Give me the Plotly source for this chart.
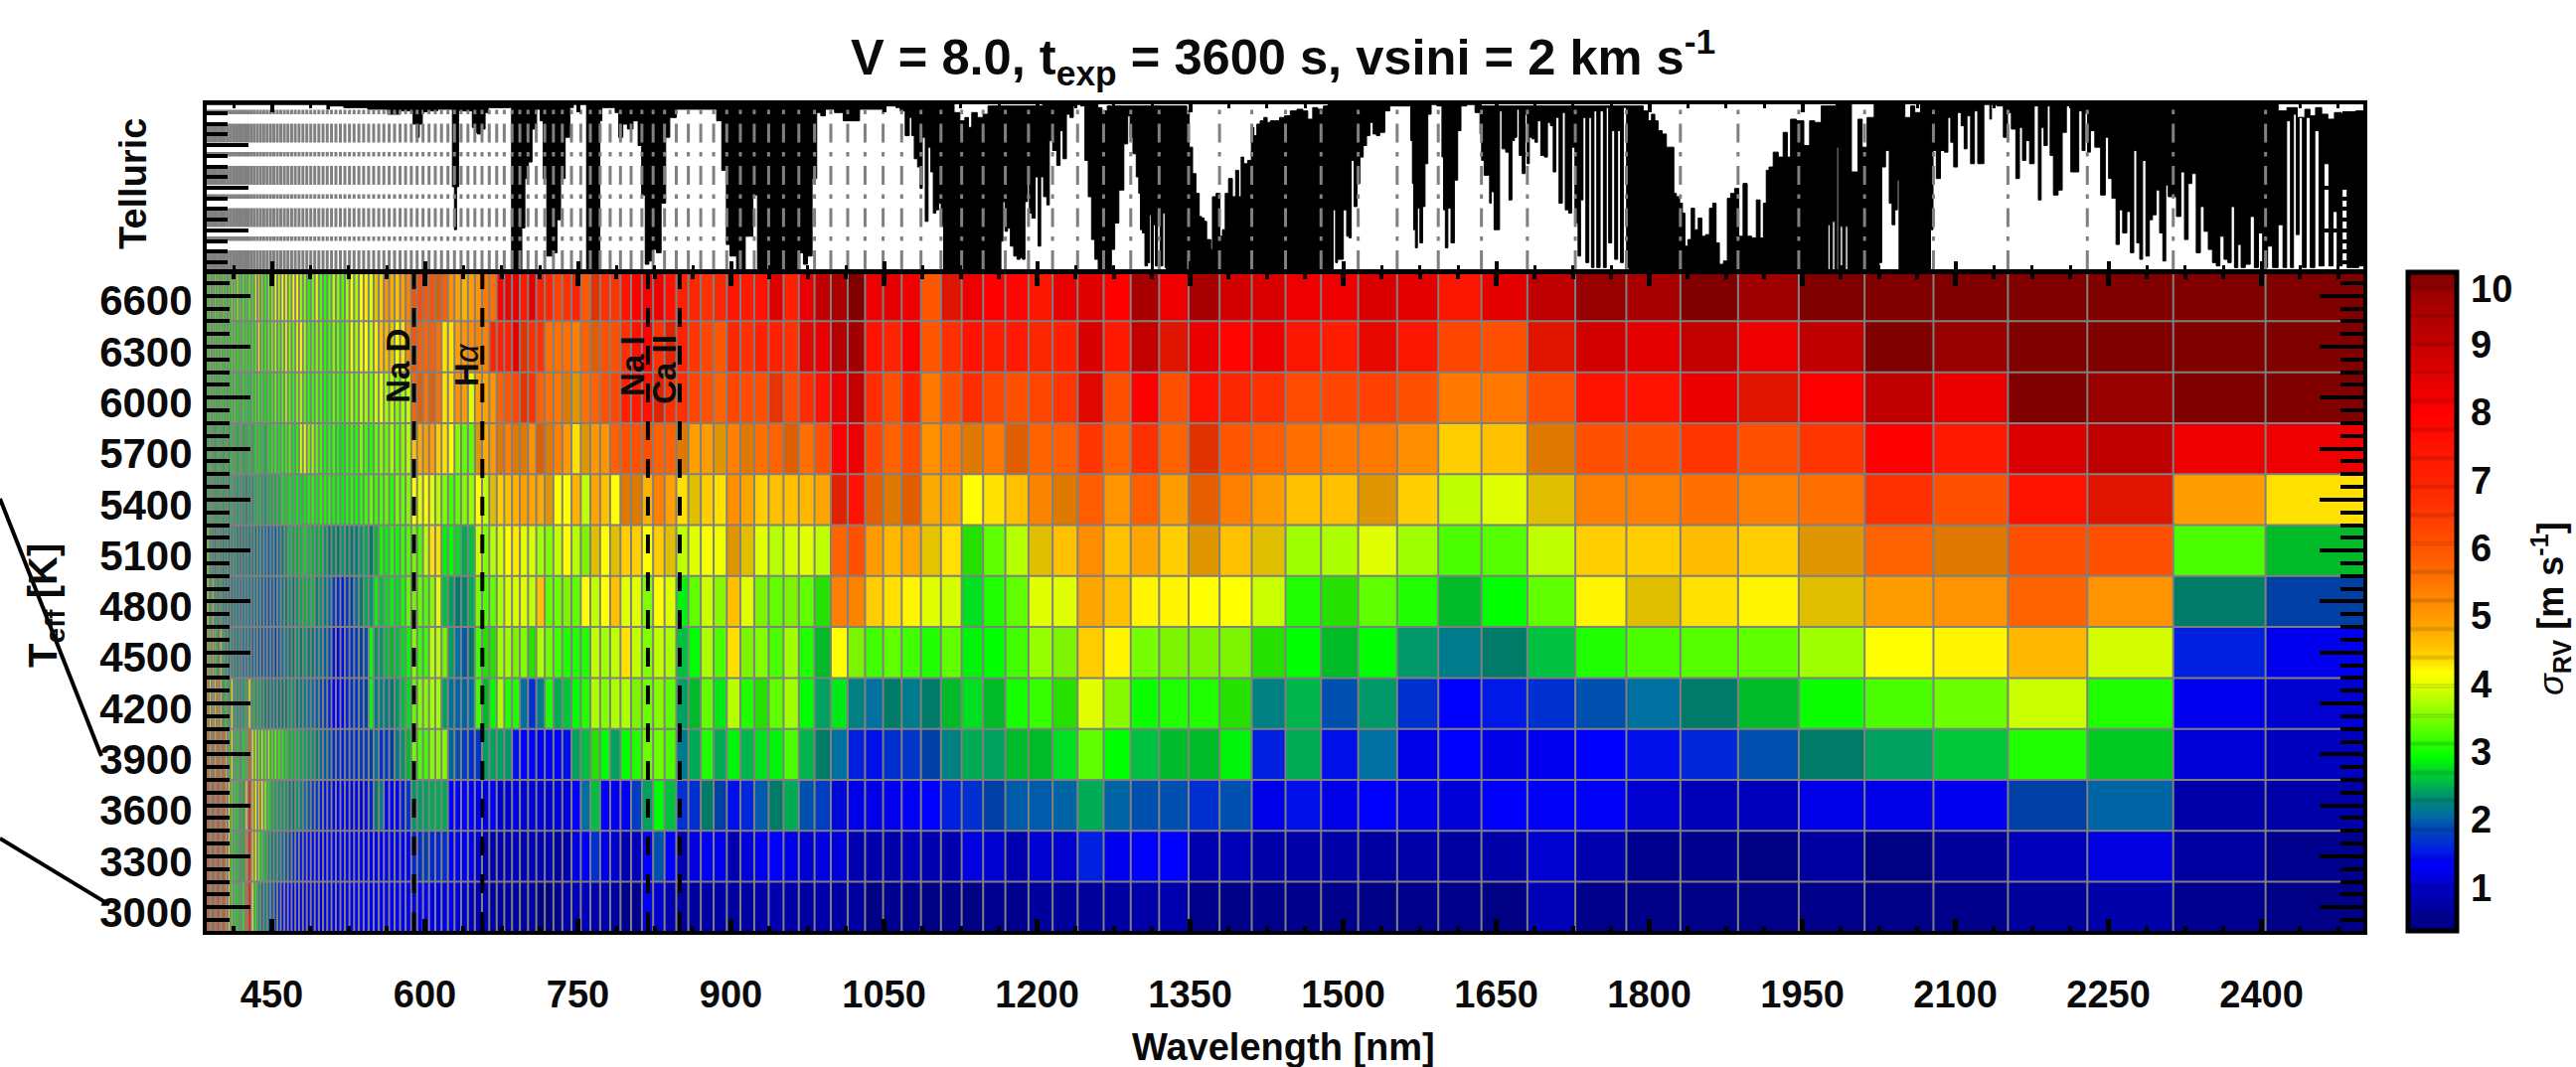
import plotly.graph_objects as go

W, H = 2592, 1074

title_text = "<b>V = 8.0, t<sub>exp</sub> = 3600 s, vsini = 2 km s<sup>-1</sup></b>"

wave_edges = [381.2,383.6,386.0,388.5,391.0,393.5,396.1,398.7,401.3,404.0,406.7,409.4,412.2,415.0,417.9,420.7,423.7,426.6,429.7,432.7,
435.8,438.9,442.1,445.4,448.7,452.0,455.4,458.8,462.3,465.8,469.4,473.0,476.7,480.5,484.3,488.2,492.1,496.1,500.2,504.3,
508.5,512.8,517.2,521.6,526.1,530.6,535.3,540.0,544.9,549.8,554.8,559.8,565.0,570.3,575.7,581.1,586.7,592.4,598.2,604.1,
610.2,616.3,622.6,629.0,635.5,642.2,649.0,656.0,663.1,670.4,677.8,685.4,693.1,701.1,709.2,717.5,726.0,734.7,743.7,752.8,
762.2,771.8,781.6,791.7,802.1,812.7,823.7,834.9,846.4,858.2,870.4,883.0,895.9,909.2,922.8,936.9,951.5,966.5,981.9,997.9,
1014.4,1031.4,1049.1,1067.3,1086.2,1105.8,1126.1,1147.1,1168.9,1191.6,1215.2,1239.7,1265.2,1291.8,1319.6,1348.5,1378.8,1410.4,1443.5,1478.3,
1514.7,1552.9,1593.2,1635.5,1680.5,1727.5,1777.5,1830.5,1887.0,1946.5,2011.0,2078.5,2151.5,2229.3,2313.5,2404.0,2502.6]

teff_edges = [2850,3150,3450,3750,4050,4350,4650,4950,5250,5550,5850,6150,6450,6750]

dense_3000 = [6.8,5.6,7.2,5.4,6.8,5.5,6.9,5.3,6.5,5.2, 4.2,3.2,2.9,2.8,2.7,3.0,6.0,7.9,4.0,2.8, 2.3,2.2,2.1,2.0,1.85,1.7,1.5,1.4,1.3,1.25,
 1.2,1.25,1.2,1.15,1.2,1.15,1.2,1.2,1.15,1.2, 1.25,1.2,1.25,1.3,1.25,1.3,1.3,1.25,1.3,1.3, 1.3,1.25,1.3,1.3,1.25,1.3,
 1.15,1.3,1.28,1.25,1.2,1.15,1.2,1.1,1.0,.85,.8,.8,.65,.65,.65,.6,.6,.65,.5,.5,.55,.75,.8,.9,.75,.75,.65,.45,.45,1.25,1.0,.75]
wide_3000 = [.65,.65,.7,.7,.65,.65,.7,.75,.7,.65,.7,.65,.65,.5,.55,.55,.5,.4,.5,.55,.55,.6,.6,.6,.65,.7,.75,.4,.35,.4,.4,.4,.35,.4,.4,.5,.8,.4,.35,.35,.35,.4,.35,.4,.6,.7,.45,.35]

dense_3300 = [6.6,5.6,7.0,5.3,6.5,5.4,6.7,5.2,6.4,5.0, 4.1,3.0,2.8,2.7,2.6,2.6,5.3,7.5,4.4,3.9, 3.3,2.8,2.5,2.3,2.2,2.15,2.1,2.0,1.85,1.8,
 1.6,1.5,1.4,1.4,1.3,1.3,1.3,1.3,1.25,1.3, 1.3,1.25,1.3,1.3,1.25,1.3,1.25,1.3,1.3,1.25, 1.3,1.25,1.3,1.25,1.3,1.3,
 1.55,1.6,1.75,1.55,1.55,1.6,1.3,1.3,1.25,1.2,1.0,.94,.94,.75,.8,.9,.75,.85,.8,.8,.6,.75,1.15,1.3,1.6,1.15,1.0,.94,.9,1.3,1.85,1.3]
wide_3300 = [.95,1.1,1.25,1.2,.94,1.05,1.2,1.3,1.15,1.0,1.1,1.05,.94,.75,.7,.85,.75,.94,1.1,1.0,.94,1.0,1.0,1.5,1.2,1.3,1.3,.75,.8,.7,.7,.7,.65,.7,.65,.7,1.0,.75,.55,.55,.5,.65,.5,.6,.85,1.1,.65,.55]

dense_3600 = [6.5,5.5,6.8,5.2,6.4,5.4,6.6,5.2,6.3,5.0, 4.1,3.2,2.9,2.8,2.6,2.6,4.2,7.6,4.5,4.0, 4.3,3.9,3.4,2.8,2.6,2.4,2.35,2.35,2.3,2.2,
 2.2,2.3,2.15,2.0,1.85,1.7,1.6,1.5,1.4,1.4, 1.35,1.3,1.3,1.3,1.35,1.3,1.35,1.4,1.5,2.2, 2.15,1.3,1.3,1.25,1.5,1.6,
 2.3,2.35,2.35,2.4,2.4,2.4,1.3,1.3,1.3,1.3,1.25,1.15,1.3,1.0,1.0,1.15,1.0,1.05,1.05,1.0,1.05,1.05,1.3,2.0,2.5,1.3,1.25,1.25,1.7,2.35,2.85,2.5]
wide_3600 = [1.6,1.6,2.22,1.78,1.4,1.55,1.9,2.22,2.4,1.85,1.7,1.35,1.15,1.15,1.2,1.25,1.3,1.5,1.6,1.78,1.9,1.9,1.95,2.4,1.95,1.85,1.85,1.6,1.85,1.15,1.4,1.15,1.3,1.15,1.05,1.28,1.25,1.25,1.0,.8,.85,1.15,1.15,1.2,1.78,1.95,.7,.7]

dense_3900 = [6.0,5.0,6.2,4.6,5.6,4.5,5.8,5.0,6.0,4.6, 2.8,4.1,2.7,2.7,2.6,2.8,2.7,6.0,4.0,3.6, 3.2,3.6,3.1,3.5,3.0,3.2,3.0,2.9,2.7,2.6,
 2.5,2.5,2.4,2.4,2.3,2.3,2.2,2.0,1.9,1.85, 1.6,1.6,1.5,1.6,1.6,1.6,1.7,1.7,1.8,2.0, 1.6,1.7,1.8,2.1,2.3,2.6,
 3.35,3.2,3.15,3.5,3.5,3.5,1.95,1.85,1.7,1.6,1.65,2.35,2.35,2.35,2.3,1.4,1.3,1.3,1.25,1.3,1.3,1.4,2.35,2.5,3.05,2.85,2.35,2.85,3.0,3.35,3.35,3.2]
wide_3900 = [2.1,2.4,3.0,2.4,2.8,2.45,2.7,2.8,3.2,2.45,2.22,2.0,1.5,1.4,1.6,1.65,1.78,2.15,2.4,2.35,2.6,2.62,2.7,3.3,2.85,2.5,2.6,2.62,2.8,1.5,2.4,1.4,2.0,1.15,1.3,1.15,1.2,1.3,1.4,1.55,1.85,2.22,2.35,2.55,3.0,2.65,1.05,.9]

dense_4200 = [5.5,4.2,5.5,4.0,5.0,3.9,5.3,4.2,2.6,2.8, 2.5,4.1,2.4,2.3,2.3,2.3,2.5,4.2,2.6,2.4, 2.4,2.3,2.2,2.2,2.1,2.1,2.2,2.2,2.2,2.3,
 2.3,2.2,2.1,2.1,2.0,2.0,1.9,1.85,1.7,1.5, 1.3,1.3,1.3,1.5,1.6,1.65,1.7,1.8,2.85,2.1, 2.15,2.1,2.2,2.3,2.5,2.7,
 3.3,3.45,3.5,3.6,3.6,2.35,2.0,1.95,1.95,2.0,3.15,2.62,2.85,3.65,3.0,3.0,2.0,1.6,2.1,3.0,2.4,2.55,2.85,3.0,3.65,3.45,3.65,3.65,3.46,3.35,3.5,3.3]
wide_4200 = [2.35,2.62,3.3,2.75,3.7,3.0,3.05,3.3,3.6,2.85,2.35,2.75,2.15,2.0,2.22,2.1,2.22,2.62,2.7,2.62,2.95,3.1,3.05,3.9,3.5,2.9,3.0,3.0,3.05,2.15,2.45,1.85,2.3,1.6,1.3,1.45,1.6,1.85,2.0,2.22,2.62,2.9,3.2,3.35,3.8,3.0,1.2,1.0]

dense_4500 = [4.5,3.5,5.0,3.0,4.6,3.0,2.4,3.8,2.5,2.3, 2.2,2.3,2.1,2.2,2.1,2.0,2.0,2.1,1.9,2.0, 1.9,1.85,1.9,1.85,1.9,1.8,1.9,2.0,2.1,2.2,
 2.2,2.3,2.2,2.3,2.2,2.2,2.0,2.1,1.9,1.85, 1.4,1.35,1.4,1.6,1.6,1.7,1.8,1.85,2.85,2.3, 2.3,2.5,2.6,2.5,2.7,2.85,
 3.45,3.1,3.1,3.7,3.7,3.46,2.35,2.0,1.9,2.2,3.15,3.05,3.05,3.6,3.6,3.46,3.45,3.05,3.65,3.35,3.15,3.0,3.0,3.0,3.75,3.6,3.75,4.25,3.75,3.45,3.75,3.65]
wide_4500 = [2.5,2.85,3.65,3.2,4.25,3.46,3.45,3.2,3.6,3.0,2.62,4.1,3.46,3.15,3.3,3.15,3.0,3.3,2.8,2.85,3.15,3.55,3.46,4.4,4.15,3.4,3.46,3.46,3.46,3.05,2.85,2.62,2.85,2.3,2.1,2.22,2.5,3.0,3.2,3.25,3.3,3.6,4.1,4.15,4.6,3.85,1.5,1.2]

dense_4800 = [3.8,2.6,4.0,2.6,3.6,2.4,2.3,2.5,2.1,2.2, 2.1,2.2,2.1,2.1,2.0,2.0,2.0,2.1,2.0,2.1, 2.0,1.9,1.9,1.85,1.9,1.85,2.0,2.1,2.2,2.3,
 2.2,2.3,2.4,2.6,2.4,2.5,2.2,2.3,2.1,2.0, 1.7,1.6,1.5,1.7,1.8,2.0,2.2,2.4,2.3,2.8, 2.5,2.7,2.8,2.7,2.9,3.3,
 3.46,3.3,3.2,3.5,3.9,2.5,2.35,2.2,2.25,2.4,3.4,3.2,3.3,3.65,3.85,3.85,3.9,3.75,4.5,3.3,3.35,3.46,3.3,4.1,3.75,4.1,4.5,3.9,3.9,3.45,4.1,3.9]
wide_4800 = [2.8,3.3,3.8,3.5,4.5,3.9,3.46,3.3,3.46,3.3,3.05,5.3,5.2,4.4,4.25,4.15,3.9,3.85,2.7,3.0,3.3,3.9,3.9,4.8,4.5,4.15,4.15,4.1,4.1,3.8,3.0,3.05,3.3,3.0,2.62,2.85,3.3,4.15,4.32,4.25,4.15,4.32,4.9,5.0,5.7,5.0,2.22,1.78]

dense_5100 = [3.2,2.6,3.6,2.5,2.3,2.2,2.4,2.3,2.2,2.3, 2.2,2.3,2.3,2.2,2.2,2.1,2.1,2.2,2.1,2.2, 2.1,2.0,2.0,1.9,2.0,1.9,2.0,2.2,2.3,2.5,
 2.4,2.6,2.5,2.7,2.5,2.6,2.4,2.6,2.3,2.2, 2.25,2.2,2.3,2.25,2.2,2.15,2.3,2.4,2.2,2.6, 2.9,2.8,3.0,2.9,3.1,3.2,
 3.46,3.2,3.75,4.25,4.25,2.8,2.85,2.7,2.4,2.5,3.8,3.45,3.7,3.85,4.1,4.2,3.9,3.85,3.6,3.45,3.75,4.1,3.7,3.46,4.32,4.1,4.32,4.4,4.4,4.1,4.4,4.32]
wide_5100 = [3.75,3.9,4.05,4.0,4.74,4.32,3.9,3.7,3.85,3.9,3.75,5.7,6.0,4.9,4.6,4.8,4.3,4.25,3.05,3.3,3.7,4.32,4.5,5.1,4.5,4.8,4.4,4.74,4.5,4.32,3.6,3.65,3.9,3.6,3.2,3.25,3.75,4.4,4.4,4.55,4.4,4.74,5.7,5.16,6.0,6.0,3.2,2.62]

dense_5400 = [2.6,2.5,2.4,2.7,2.5,2.4,2.6,2.5,2.4,2.5, 2.3,2.5,2.4,2.3,2.4,2.3,2.2,2.4,2.3,2.5, 2.5,2.4,2.3,2.5,2.6,2.6,2.5,2.8,2.7,2.8,
 2.7,2.8,2.7,2.8,2.9,3.0,2.8,3.0,2.9,3.0, 2.9,2.9,2.8,2.9,3.0,2.9,3.0,3.1,3.3,3.1, 3.2,3.3,3.0,3.4,3.3,3.5,
 4.1,3.9,4.1,3.9,3.7,3.45,3.15,3.3,3.5,3.55,4.1,3.75,4.32,4.4,4.5,4.65,4.85,4.8,4.7,4.75,4.1,4.1,4.65,3.75,4.8,4.5,4.1,5.16,5.16,4.65,5.3,4.85]
wide_5400 = [4.25,4.32,4.4,4.25,5.05,4.8,4.4,4.5,4.5,4.6,4.8,6.84,7.4,5.6,5.16,5.58,4.7,4.8,4.1,4.25,4.5,5.2,5.16,5.8,5.0,5.8,4.9,5.6,5.3,4.9,4.5,4.5,4.74,4.4,3.75,3.9,4.32,5.3,5.3,5.5,5.3,5.5,6.6,6.0,7.4,7.26,4.9,4.25]

dense_5700 = [2.8,2.7,2.6,2.9,2.7,2.6,2.8,2.7,2.6,2.7, 2.6,2.8,2.7,2.6,2.7,2.6,2.5,2.7,2.6,2.8, 2.8,2.7,2.6,2.8,2.9,3.0,2.8,3.0,3.0,3.2,
 2.8,3.0,3.8,4.0,3.4,3.6,3.3,3.1,2.9,3.0, 3.1,2.9,2.8,3.0,3.1,3.0,3.4,3.1,3.0,3.3, 3.5,3.3,3.6,3.3,3.5,3.7,
 4.5,4.7,4.85,4.9,4.4,4.25,4.1,3.5,3.3,3.3,4.74,4.7,4.95,5.16,5.3,5.16,5.16,5.05,5.58,5.16,5.3,4.95,4.25,4.74,4.95,5.0,5.75,6.0,6.0,6.0,5.75,5.7]
wide_5700 = [5.16,4.85,4.9,4.74,5.3,5.16,5.5,5.7,5.58,5.5,6.0,7.9,8.2,6.2,5.7,6.1,5.05,5.4,5.16,5.4,5.58,5.7,5.8,6.5,5.7,6.6,5.7,6.42,5.9,5.8,5.5,5.4,5.4,5.1,4.4,4.5,5.16,6.0,6.0,6.5,6.0,6.5,7.9,7.2,8.6,9.0,8.2,8.2]

dense_6000 = [2.9,3.0,2.8,3.1,2.9,2.9,2.8,3.0,2.9,2.8, 2.8,2.9,3.0,2.8,2.7,2.9,2.8,2.7,2.9,3.0, 3.1,2.9,2.8,2.9,3.0,3.3,3.0,3.2,3.6,3.2,
 3.0,3.4,3.7,3.2,3.0,3.1,3.3,3.1,2.9,3.0, 3.3,3.1,3.0,3.3,3.6,3.3,3.7,3.6,3.4,3.75, 3.9,3.6,3.7,3.5,3.6,3.75,
 5.75,5.6,5.5,5.6,5.5,4.25,4.25,5.05,4.9,3.9,4.85,4.85,5.0,5.75,5.9,6.2,6.4,6.6,5.75,5.5,5.4,5.16,4.74,5.5,5.75,6.0,6.2,7.0,7.2,7.5,6.84,6.6]
wide_6000 = [6.6,6.2,6.0,5.7,6.2,6.1,6.0,6.4,6.1,6.7,7.4,8.3,8.9,6.7,6.0,7.0,5.4,6.0,6.7,6.2,6.0,6.2,6.5,7.68,6.0,7.9,6.0,7.4,6.8,6.6,6.1,6.2,6.3,6.0,5.4,5.4,6.0,7.4,7.4,8.3,7.26,7.9,9.0,8.3,10.2,9.7,10.2,10.2]

dense_6300 = [3.0,3.3,2.9,3.2,3.0,3.1,3.0,3.2,2.9,3.0, 2.9,3.1,3.0,3.0,2.9,3.1,3.0,2.9,3.0,3.2, 4.2,3.1,3.0,3.2,3.4,3.6,3.2,3.5,3.9,3.5,
 3.3,3.8,4.1,3.6,3.1,3.2,3.5,3.3,3.0,3.1, 3.5,3.3,3.1,3.5,3.9,3.6,4.0,4.1,3.7,4.2, 4.5,4.6,4.3,4.0,4.25,5.2,
 6.0,5.8,5.7,5.8,5.5,4.25,4.25,4.85,5.0,5.1,5.2,5.2,6.9,7.0,7.0,8.3,6.42,6.6,6.6,5.5,5.5,5.5,5.3,5.75,5.58,6.0,6.0,6.6,7.5,7.9,6.6,6.84]
wide_6300 = [7.0,6.5,6.2,5.9,6.8,6.6,7.0,7.0,6.6,7.68,8.3,9.2,9.6,7.4,6.9,7.9,5.9,6.6,7.4,7.1,7.2,6.8,7.0,8.1,7.2,8.9,7.26,8.3,7.8,8.2,7.3,7.1,7.7,7.3,6.2,6.0,7.26,8.7,8.4,8.9,8.2,9.0,10.2,9.7,10.2,10.2,10.2,10.2]

dense_6600 = [3.0,3.2,3.0,3.3,3.0,3.4,3.1,3.0,3.2,3.0, 3.0,3.3,3.1,3.6,3.0,3.2,2.9,3.3,3.0,3.8, 4.3,3.2,3.0,3.3,3.5,4.0,3.6,4.1,4.0,3.5,
 4.0,4.1,3.6,3.5,3.0,3.4,3.9,3.2,3.0,3.2, 3.7,3.5,3.2,3.6,4.0,3.6,4.1,4.2,3.9,4.3, 4.4,5.0,4.7,4.5,4.9,5.2,
 6.0,6.1,5.9,6.0,5.58,5.8,5.05,4.85,4.65,4.9,5.0,5.4,5.5,7.9,7.7,8.4,7.2,8.4,7.0,6.9,6.3,6.6,7.0,5.9,6.42,6.6,6.5,7.4,7.9,8.0,8.2,7.5]
wide_6600 = [7.0,6.8,6.6,6.8,7.3,7.2,7.4,8.5,7.0,8.3,9.0,9.4,10.0,8.2,8.4,8.2,5.9,7.26,8.2,7.9,7.8,7.3,8.3,8.5,7.9,9.5,8.2,9.5,8.7,8.6,8.2,8.2,8.6,8.4,7.3,8.4,9.0,9.7,9.5,10.2,9.6,10.2,10.2,10.2,10.2,10.2,10.2,10.2]

sigma_rows = [dense_3000+wide_3000, dense_3300+wide_3300, dense_3600+wide_3600, dense_3900+wide_3900, dense_4200+wide_4200,
              dense_4500+wide_4500, dense_4800+wide_4800, dense_5100+wide_5100, dense_5400+wide_5400, dense_5700+wide_5700,
              dense_6000+wide_6000, dense_6300+wide_6300, dense_6600+wide_6600]

# telluric transmission: lower and upper envelope of the densely oscillating curve
tell_low = [(384,1.0),(503,1.0),(505,.97),(508,.99),(533,.98),(555,.97),(572,.94),(580,.96),(587,.96),(590,.88),(593,.80),(596,.88),(599,.96),
(626,.97),(628,.5),(630,.24),(632,.5),(634,.96),(645,.96),(648,.86),(650,.83),(653,.82),(656,.86),(658,.85),(660,.95),(664,.98),(684,.98),(686,0),(694,0),
(696,.25),(700,.55),(703,.65),(707,.85),(712,.97),(714,.9),(718,.55),(721,.08),(724,.08),(728,.1),(731,.3),(735,.55),(740,.8),(744,.98),(747,1.0),(758,1.0),
(759,0),(771,0),(772,.9),(775,.98),(785,.98),(788,.95),(792,.8),(796,.88),(801,.85),(807,.9),(811,.75),(814,.45),(818,.03),(821,.05),(825,.12),(829,.1),
(834,.4),(838,.8),(842,.92),(851,.97),(884,.97),(888,.9),(894,.6),(897,.15),(901,.08),(910,0),(918,.2),(925,.45),(927,0),(966,0),(969,.1),(973,.03),(977,.08),
(982,.55),(986,.95),(990,.93),(995,.97),(1008,.95),(1012,.9),(1040,.97),(1060,.99),(1063.4,.98),(1068.3,.96),(1073.2,.81),(1076.4,.92),(1078,.81),(1081.3,.67),
(1084.5,.62),(1086.2,.49),(1088.8,.80),(1092,.29),(1094.3,.74),(1097.5,.59),(1099.1,.34),(1102.4,.36),(1104.7,.40),(1107.3,.26),(1109.5,0),(1163.4,0),(1165.7,.17),
(1167.3,.41),(1169.9,.23),(1172.2,.25),(1175.5,.14),(1178.7,.08),(1182,.06),(1184.5,.07),(1186.8,.06),(1189.4,.41),(1191.7,.60),(1193.3,.34),(1196.6,.31),
(1199.8,.56),(1202.4,.14),(1204.7,.56),(1208,.44),(1211.2,.39),(1212.8,.78),(1217.7,.72),(1220.9,.63),(1224.2,.84),(1226.8,.67),(1230.7,.94),(1233.9,.92),
(1237.1,.99),(1240.4,1.0),(1245.3,.99),(1248.5,.66),(1251.8,.44),(1255,.18),(1258.3,.06),(1261.5,0),(1271.2,0),(1274.5,.12),(1277.7,.28),(1282.6,.48),
(1287.5,.76),(1290.1,.93),(1292.3,.80),(1295.6,.70),(1298.8,.56),(1300.5,.46),(1302.1,.24),(1304.4,.22),(1307,.02),(1309.5,.04),(1311.2,.33),(1312.8,.02),
(1315.1,.27),(1316.7,.02),(1319.3,.34),(1321.9,.02),(1324.5,.34),(1326.4,.01),(1327,0),(1488.8,0),(1491.4,.36),(1493.7,.04),(1495.3,.06),(1498.5,.06),
(1501.8,.36),(1505,.2),(1506.6,.19),(1509.2,.66),(1512.2,.38),(1514.8,.52),(1518,.68),(1521.3,.75),(1524.5,.81),(1527.8,.89),(1531,.82),(1534.2,.81),
(1537.5,.83),(1544,.96),(1547.2,.99),(1565.1,.99),(1567.4,.78),(1568.3,.52),(1570,.24),(1571.6,.13),(1573.9,.37),(1576.5,.16),(1579.1,.38),(1581.3,.64),
(1584.6,.94),(1587.8,1.0),(1596,.99),(1597.6,.68),(1599.2,.36),(1601.1,.13),(1604.1,.37),(1607.3,.16),(1610.6,.54),(1613.8,.84),(1617,.99),(1625.2,1.0),
(1633.3,.95),(1634.9,.82),(1636.5,.66),(1639.8,.57),(1643,.57),(1644,.40),(1646.3,.47),(1649.5,.24),(1652.8,.24),(1653.7,.96),(1657.6,.73),(1660.9,.71),
(1664.1,.42),(1666.7,.78),(1669,.80),(1671.3,.97),(1673.9,.69),(1677.1,.58),(1679.4,.94),(1681.3,.64),(1683.6,.80),(1686.9,.79),(1689.1,.77),(1691.7,.90),
(1695.6,.69),(1698.9,.68),(1701.5,.89),(1704.7,.87),(1707,.59),(1709.6,.92),(1713.5,.40),(1716.1,.95),(1719.3,.36),(1722.6,.34),(1725.2,.74),(1729.1,.28),
(1731.3,.08),(1733.9,.42),(1736.2,.92),(1739.5,.04),(1742,.92),(1744.7,.01),(1746.9,.96),(1750.2,.01),(1753.4,.96),(1756.7,.01),(1758.9,.98),(1761.5,.16),
(1764.8,.84),(1767.4,.06),(1770.6,.84),(1772.9,.04),(1776.2,.98),(1779.4,.01),(1781,0),(1974.2,0),(1975.9,.27),(1978.4,0),(1980.7,.29),(1983,0),(1984.6,.74),
(1986.2,0),(1988.2,.26),(1990.8,0),(1993.7,.26),(1995.3,0),(2024.5,0),(2026.1,.04),(2029.4,.62),(2033.6,.72),(2036.8,.40),(2039.1,.27),(2042.3,.36),(2044,.54),
(2045.6,0),(2074.8,0),(2076.4,.24),(2079.7,.72),(2082.9,.55),(2087.8,.72),(2091,.71),(2094.3,.92),(2096.6,.77),(2100.1,.62),(2104,.95),(2107.3,.87),(2109.9,.73),
(2112.8,.93),(2117,.64),(2120.3,.96),(2123.5,.64),(2126.8,.64),(2129,1.0),(2133.3,1.0),(2134.2,.91),(2136.5,1.0),(2144.6,.99),(2149.5,.80),(2152.7,.95),(2157,.85),
(2161.5,.55),(2164.1,.86),(2167.4,.66),(2170.6,.78),(2174.8,.64),(2179.7,.99),(2182.9,.42),(2185.2,.86),(2188.5,.75),(2191.7,.99),(2194,.69),(2198.2,.45),
(2203.1,.48),(2206.3,.83),(2211.2,.99),(2215.1,.59),(2219.3,.59),(2222.5,.96),(2225.8,.72),(2228.4,.95),(2230.7,.71),(2233.9,.84),(2239.4,.74),(2245.3,.45),
(2248.5,.80),(2251.8,.55),(2255,.43),(2259.9,.15),(2261.5,.36),(2266.4,.22),(2269.6,.35),(2273.5,.10),(2276.1,.72),(2279.4,.16),(2282,.06),(2284.9,.66),
(2288.5,.08),(2291.7,.30),(2294.6,.33),(2298.9,.48),(2301.4,.22),(2305.3,.05),(2307,.51),(2310.2,.44),(2314.1,.44),(2319.3,.32),(2322.6,.59),(2326.5,.18),
(2329.7,.52),(2333.6,.58),(2338.5,.10),(2341.7,.38),(2345.9,.23),(2349.8,.12),(2354.1,.04),(2357.3,.02),(2361.2,.20),(2365.4,.06),(2368.7,.04),(2371.9,.38),
(2375.2,.01),(2378.4,.15),(2381.7,.01),(2386.5,.03),(2391.4,.32),(2394.6,.01),(2399.5,.22),(2402.8,.01),(2409.2,.14),(2412.5,.01),(2420,.27),(2422.2,.01),
(2427.1,.90),(2429.7,.01),(2433,.94),(2435.2,.21),(2438.5,.92),(2441.7,.01),(2445.9,.92),(2449.8,.01),(2454.7,.84),(2458,.02),(2464.5,.64),(2467.7,.02),
(2472.6,.35),(2475.8,.02),(2482.3,.50),(2485.6,.01),(2492,.01),(2498.6,.02),(2502.6,.02)]

tell_high = [(384,1.0),(1115.4,1.0),(1121.9,.95),(1126.8,.90),(1131.6,.92),(1133.9,.86),(1138.1,.95),(1144.6,.92),(1149.5,.94),(1154.4,.99),(1256.6,1.0),
(1262.5,.98),(1264.7,.96),(1272.9,.99),(1346,.99),(1347.5,.94),(1350.8,.74),(1354,.58),(1357.3,.46),(1360.5,.32),(1362.2,.31),(1365.4,.29),(1367,.18),(1369.3,.18),
(1371.2,.12),(1372.5,.44),(1378.4,.46),(1380,.20),(1383.3,.24),(1385.5,.46),(1389.8,.55),(1393,.44),(1396.2,.60),(1398.9,.44),(1401.1,.68),(1403.7,.64),(1409.2,.66),
(1410.9,.86),(1414.1,.81),(1416.7,.88),(1420.6,.90),(1423.9,.92),(1427.1,.89),(1430.3,.90),(1435.2,.90),(1440.1,.92),(1445,.93),(1451.4,.96),(1458,.97),(1462.8,.96),
(1467.7,.91),(1472.6,.98),(1477.4,.97),(1484,.99),(1486.2,1.0),(1784.3,.99),(1790.8,.99),(1797.3,.96),(1800.5,.90),(1803.8,.94),(1807,.90),(1810.2,.84),(1815.1,.82),
(1818.4,.74),(1823.2,.74),(1824.9,.46),(1828.1,.44),(1831.4,.40),(1833.6,.34),(1836.2,.14),(1839.5,.18),(1842.7,.37),(1846,.24),(1849.9,.31),(1853.1,.20),(1857.3,.21),
(1860.6,.37),(1863.8,.40),(1867.1,.16),(1870.3,.03),(1875.2,.05),(1877.8,.43),(1881.7,.46),(1885.6,.49),(1889.8,.20),(1894,.52),(1897.9,.20),(1902.8,.19),(1907,.42),
(1910.2,.19),(1913.5,.40),(1915.8,.60),(1919,.62),(1923.9,.71),(1928.8,.68),(1933.6,.83),(1936.9,.68),(1940.1,.91),(1948.2,.90),(1954.7,.75),(1959.6,.90),(1964.5,.89),
(1972.6,.99),(1993.7,1.0),(2002.5,.59),(2006.7,.91),(2010.6,.74),(2016.4,.92),(2024.5,1.0),(2047.2,1.0),(2053.7,.92),(2058.6,.99),(2061.8,.95),(2069.9,1.0),(2412.5,1.0),
(2420,.96),(2430,.98),(2440,.92),(2445,.97),(2450,.93),(2456,.98),(2462,.94),(2468,.91),(2475,.95),(2482,.94),(2502.6,.96)]

spectral_lines = [589.3, 656.3, 818.6, 849.8]
spectral_names = ["<b>Na D</b>", "<b>H</b><i>α</i>", "<b>Na I</b>", "<b>Ca II</b>"]
spectral_label_wave = [574, 641.4, 804, 834]
spectral_label_teff = [6189, 6195, 6189, 6165]

cb_ticks = [1, 2, 3, 4, 5, 6, 7, 8, 9]
cb_label_pos = [1, 2, 3, 4, 5, 6, 7, 8, 9, 9.82]
cb_label_text = ["1", "2", "3", "4", "5", "6", "7", "8", "9", "10"]

# colour table of the reference: (value, hex) anchors plus periodic darker bands
cmap_anchors = [(.29,"000080"),(.6,"00009c"),(1,"0000d0"),(1.3,"0000ff"),(1.6,"0030d0"),(1.85,"0050b0"),(2.0,"0070a0"),(2.15,"008080"),(2.35,"00a060"),
(2.5,"00c040"),(2.7,"00e020"),(2.85,"00ff00"),(3.0,"20ff00"),(3.15,"40ff00"),(3.3,"60ff00"),(3.45,"80ff00"),(3.6,"a0ff00"),(3.75,"c0ff00"),(3.9,"e0ff00"),
(4.1,"ffff00"),(4.25,"ffe000"),(4.5,"ffc000"),(4.85,"ffa000"),(5.05,"ff9000"),(5.3,"ff8000"),(5.5,"ff7000"),(6.0,"ff5000"),(6.6,"ff3000"),(7.0,"ff2000"),
(7.5,"ff1000"),(7.9,"ff0000"),(8.5,"e00000"),(9,"c00000"),(9.5,"a80000"),(10,"800000")]
cmap_bands = [.52,.94,1.36,1.78,2.22,2.62,3.05,3.46,3.9,4.32,4.74,5.16,5.58,6.0,6.42,6.84,7.26,7.68,8.1,8.52,8.94,9.36,9.78]

ZMIN, ZMAX = 0.29, 10.0

def base_rgb(v):
    for (v0, c0), (v1, c1) in zip(cmap_anchors, cmap_anchors[1:]):
        if v0 <= v <= v1:
            t = (v - v0) / (v1 - v0)
            a = [int(c0[i:i+2], 16) for i in (0, 2, 4)]
            b = [int(c1[i:i+2], 16) for i in (0, 2, 4)]
            return [a[i] + (b[i] - a[i]) * t for i in range(3)]
    return [128, 0, 0]

stops = {v: 1.0 for v, _ in cmap_anchors}
for c in cmap_bands:
    stops[c - .045] = 1.0
    stops[c - .015] = .88
    stops[c + .015] = .88
    stops[c + .045] = 1.0
colorscale = []
for v in sorted(stops):
    r, g, b = [x * stops[v] for x in base_rgb(v)]
    colorscale.append([(v - ZMIN) / (ZMAX - ZMIN), f"rgb({r:.0f},{g:.0f},{b:.0f})"])

GRAY = "#808080"
FONT = "Liberation Sans"
INK = "#0a0a0a"

def ydom(top, bot):
    return [1 - bot / H, 1 - top / H]

XDOM = [208 / W, 2378 / W]
XRANGE = [386.2, 2499.8]
YRANGE = [2861, 6727]

fig = go.Figure()

fig.add_trace(go.Heatmap(
    x=wave_edges, y=teff_edges, z=sigma_rows, xaxis="x2", yaxis="y2",
    zmin=ZMIN, zmax=ZMAX, colorscale=colorscale, hoverinfo="skip",
    colorbar=dict(x=2423 / W, xanchor="left", xpad=0, ypad=0, y=1 - 605.5 / H, yanchor="middle",
                  len=663, lenmode="pixels", thickness=49, thicknessmode="pixels",
                  outlinecolor="black", outlinewidth=5, tickmode="array", tickvals=cb_ticks,
                  showticklabels=False, ticks="inside", ticklen=4, tickwidth=3, tickcolor="black"),
))

# cell grid
gx, gy = [], []
for e in wave_edges:
    gx += [e, e, None]
    gy += [teff_edges[0], teff_edges[-1], None]
for t in teff_edges:
    gx += [wave_edges[0], wave_edges[-1], None]
    gy += [t, t, None]
fig.add_trace(go.Scatter(x=gx, y=gy, xaxis="x2", yaxis="y2", mode="lines",
                         line=dict(color=GRAY, width=2), hoverinfo="skip", showlegend=False))

# spectral line markers
lx, ly = [], []
for s in spectral_lines:
    lx += [s, s, None]
    ly += [YRANGE[0], YRANGE[1], None]
fig.add_trace(go.Scatter(x=lx, y=ly, xaxis="x2", yaxis="y2", mode="lines",
                         line=dict(color="black", width=4, dash="19px,19px"), hoverinfo="skip", showlegend=False))

# telluric band
low_w = [p[0] for p in tell_low]
low_t = [p[1] for p in tell_low]
high_w = [p[0] for p in tell_high]
high_t = [p[1] for p in tell_high]
fig.add_trace(go.Scatter(x=low_w + high_w[::-1], y=low_t + high_t[::-1], xaxis="x", yaxis="y", mode="lines",
                         fill="toself", fillcolor="black", line=dict(color="black", width=1, shape="hvh"),
                         hoverinfo="skip", showlegend=False))
dx, dy = [], []
for e in wave_edges:
    dx += [e, e, None]
    dy += [0, 1, None]
fig.add_trace(go.Scatter(x=dx, y=dy, xaxis="x", yaxis="y", mode="lines",
                         line=dict(color=GRAY, width=3, dash="19px,9.5px,4.5px,9.5px"),
                         hoverinfo="skip", showlegend=False))

# invisible anchor so the label-only colour-bar axis is drawn
fig.add_trace(go.Scatter(x=[1000], y=[5], xaxis="x2", yaxis="y3", mode="markers",
                         marker=dict(opacity=0), hoverinfo="skip", showlegend=False))

tickfont = dict(family=FONT, size=38, color=INK, weight="bold")
tickfont_y = dict(family=FONT, size=42, color=INK, weight="bold")
fig.update_layout(
    width=W, height=H, autosize=False, margin=dict(l=0, r=0, t=0, b=0, autoexpand=False),
    paper_bgcolor="white", plot_bgcolor="rgba(0,0,0,0)", showlegend=False,
    xaxis=dict(domain=XDOM, range=XRANGE, anchor="y", showgrid=False, zeroline=False, showline=True,
               linecolor="black", linewidth=4, mirror="ticks", showticklabels=False,
               tick0=450, dtick=150, ticks="inside", ticklen=8, tickwidth=4, tickcolor="black",
               minor=dict(tick0=450, dtick=37.5, ticks="inside", ticklen=4, tickwidth=3, tickcolor="black")),
    yaxis=dict(domain=ydom(105, 271), range=[0, 1], anchor="x", showgrid=False, zeroline=False, showline=True,
               linecolor="black", linewidth=4, mirror="ticks", showticklabels=False,
               tick0=.235, dtick=.259, ticks="inside", ticklen=42, tickwidth=4, tickcolor="black",
               minor=dict(tick0=.235, dtick=.06475, ticks="inside", ticklen=21, tickwidth=4, tickcolor="black")),
    xaxis2=dict(domain=XDOM, range=XRANGE, anchor="y2", showgrid=False, zeroline=False, showline=True,
                linecolor="black", linewidth=4, mirror="ticks", tickfont=tickfont,
                tick0=450, dtick=150, ticks="inside", ticklen=12, tickwidth=4.5, tickcolor="black",
                ticklabelstandoff=27,
                minor=dict(tick0=450, dtick=37.5, ticks="inside", ticklen=5, tickwidth=3.5, tickcolor="black")),
    yaxis2=dict(domain=ydom(276, 937), range=YRANGE, anchor="x2", showgrid=False, zeroline=False, showline=True,
                linecolor="black", linewidth=4, mirror="ticks", tickfont=tickfont_y,
                tick0=3000, dtick=300, ticks="inside", ticklen=44, tickwidth=4, tickcolor="black",
                ticklabelstandoff=2, ticklabelshift=5,
                minor=dict(tick0=3000, dtick=75, ticks="inside", ticklen=23, tickwidth=4, tickcolor="black")),
    yaxis3=dict(domain=ydom(272, 940), range=[0.317, 10.093], anchor="free",
                position=2485 / W, side="right", showgrid=False, zeroline=False, showline=False, ticks="",
                tickmode="array", tickvals=cb_label_pos, ticktext=cb_label_text, tickfont=tickfont),
)

# two stray strokes running off the left edge towards the 3900 and 3000 labels
stray_strokes = [((0, 502), (102, 761)), ((0, 844), (110, 910.6))]
for (x0, y0), (x1, y1) in stray_strokes:
    fig.add_shape(type="line", xref="paper", yref="paper", x0=x0 / W, x1=x1 / W, y0=1 - y0 / H, y1=1 - y1 / H,
                  line=dict(color="black", width=4))

def note(text, px, py, size, angle=0):
    fig.add_annotation(text=text, x=px / W, y=1 - py / H, xref="paper", yref="paper", showarrow=False,
                       xanchor="center", yanchor="middle", textangle=angle,
                       font=dict(family=FONT, size=size, color=INK))

note(title_text, 1291, 58, 50.6)
note("<b>Wavelength [nm]</b>", 1291, 1054, 38)
note("<b>Telluric</b>", 134, 185, 38, -90)
note("<b>T<sub>eff</sub> [K]</b>", 46, 610, 40, -90)
note("<i>σ</i><b><sub>RV</sub> [m s<sup>-1</sup>]</b>", 2566, 613, 36, -90)

for name, wl, tf in zip(spectral_names, spectral_label_wave, spectral_label_teff):
    fig.add_annotation(text=name, x=wl, y=tf, xref="x2", yref="y2", showarrow=False, textangle=-90,
                       xanchor="center", yanchor="middle", font=dict(family=FONT, size=33, color=INK))

fig.write_html("out.html", config={"displayModeBar": False},
               post_script="document.body.style.margin='0';document.body.style.overflow='hidden';")
